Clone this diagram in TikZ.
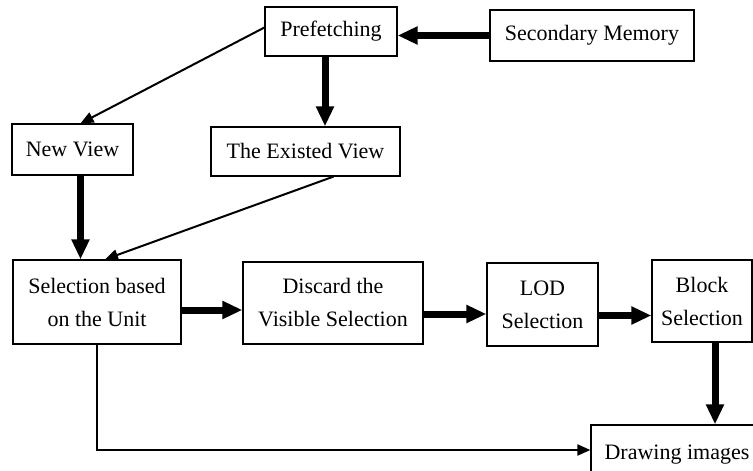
\documentclass[tikz,border=0pt]{standalone}
\usepackage{fontspec}
\setmainfont{Liberation Serif}
\usetikzlibrary{arrows.meta}

\begin{document}
\begin{tikzpicture}[x=1pt,y=-1pt,
	box/.style={draw,line width=1.2pt,align=center,inner sep=2pt,
		font=\fontsize{22}{33}\selectfont},
	thinarr/.style={line width=2pt,-{Triangle[length=13pt,width=11pt]}},
	thickarr/.style={line width=7pt,-{Triangle[length=20pt,width=17pt]}}]
	% 画布大小
	\useasboundingbox (0,0) rectangle (753,471);
	\clip (0,0) rectangle (753,471);
	% 绘制方框
	\node[box,minimum width=132pt,minimum height=49pt] (pre) at (331,31.5) {Prefetching};
	\node[box,minimum width=204pt,minimum height=51pt] (sec) at (592,35.5) {Secondary Memory};
	\node[box,minimum width=121pt,minimum height=51pt] (new) at (72.5,149.5) {New View};
	\node[box,minimum width=189pt,minimum height=49pt] (exist) at (305.5,151.5) {The Existed View};
	\node[box,minimum width=168pt,minimum height=84pt] (unit) at (97,302) {Selection based\\on the Unit};
	\node[box,minimum width=180pt,minimum height=82pt] (disc) at (333,303) {Discard the\\Visible Selection};
	\node[box,minimum width=111pt,minimum height=83pt] (lod) at (542.5,304.5) {LOD\\Selection};
	\node[box,minimum width=100pt,minimum height=82pt] (blk) at (702,301) {Block\\Selection};
	\node[box,minimum width=172pt,minimum height=60pt] (draw) at (677,455) {Drawing images};
	% 粗箭头
	\draw[thickarr] (sec.west) -- (sec.west -| pre.east);
	\draw[thickarr] ([xshift=-6pt]pre.south) -- ([xshift=-6pt]pre.south |- exist.north);
	\draw[thickarr] ([xshift=8pt]new.south) -- ([xshift=8pt]new.south |- unit.north);
	\draw[thickarr] ([yshift=-8pt]unit.east) -- ([yshift=-8pt]unit.east -| disc.west);
	\draw[thickarr] ([yshift=-11pt]disc.east) -- ([yshift=-11pt]disc.east -| lod.west);
	\draw[thickarr] ([yshift=-11pt]lod.east) -- ([yshift=-11pt]lod.east -| blk.west);
	\draw[thickarr] ([xshift=13pt]blk.south) -- ([xshift=13pt]blk.south |- draw.north);
	% 细箭头
	\draw[thinarr] ([yshift=4pt]pre.west) -- ([xshift=8pt]new.north);
	\draw[thinarr] ([xshift=28pt]exist.south) -- ([xshift=8pt]unit.north);
	\draw[thinarr] (unit.south) |- ([yshift=5pt]draw.west);
\end{tikzpicture}
\end{document}
